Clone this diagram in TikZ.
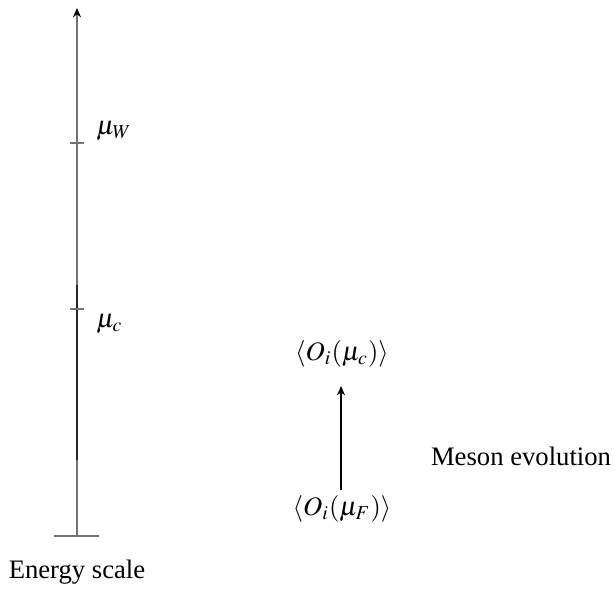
\documentclass[tikz,border=0pt]{standalone}
\usepackage{mathptmx}
\usepackage{fontspec}
\setmainfont{Liberation Serif}
\usetikzlibrary{arrows.meta}
\begin{document}
\begin{tikzpicture}[x=0.375pt,y=-0.375pt,
  axisline/.style={draw=black!55,line width=0.45pt},
  lbl/.style={inner sep=0pt,font=\fontsize{10}{12}\selectfont}]
\useasboundingbox (0,0) rectangle (614,588);
\coordinate (bot) at (77,536);
\coordinate (top) at (77,8);
\coordinate (bl) at (54,536);
\coordinate (br) at (99,536);
\coordinate (dtop) at (77,285);
\coordinate (dbot) at (77,460);
\coordinate (wl) at (70,143);
\coordinate (wr) at (84,143);
\coordinate (cl) at (70,309);
\coordinate (cr) at (84,309);
\draw[axisline,-{Stealth[length=3.5pt,width=3pt,color=black]}] (bot) -- (top);
\draw[black!85,line width=0.45pt] (dtop) -- (dbot);
\draw[axisline] (bl) -- (br);
\draw[axisline] (wl) -- (wr);
\draw[axisline] (cl) -- (cr);
\node[lbl,anchor=west] (muW) at (96,131) {$\mu_W$};
\node[lbl,anchor=west] (muc) at (96,324) {$\mu_c$};
\node[lbl] (es) at (77,572) {Energy scale};
\node[lbl] (Oc) at (342,354) {$\langle O_i(\mu_c)\rangle$};
\node[lbl] (OF) at (342,509) {$\langle O_i(\mu_F)\rangle$};
\node[lbl] (me) at (521,456) {Meson evolution};
\coordinate (as) at (341,490);
\coordinate (ae) at (341,386);
\draw[black,line width=0.5pt,-{Stealth[length=3.5pt,width=3pt]}] (as) -- (ae);
\end{tikzpicture}
\end{document}
